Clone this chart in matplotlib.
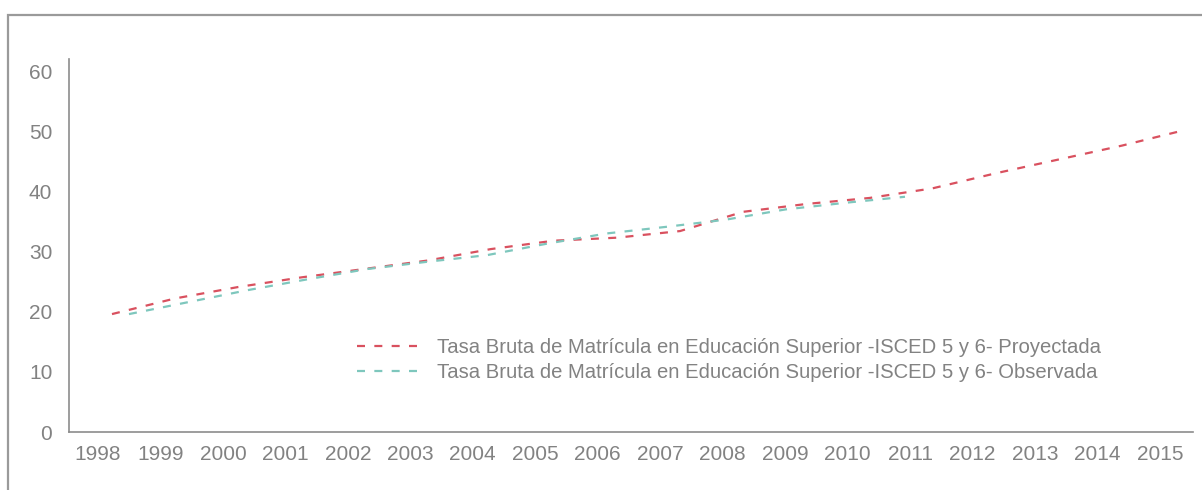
import matplotlib
matplotlib.use('Agg')
import matplotlib.pyplot as plt
from matplotlib.lines import Line2D
from matplotlib.patches import Rectangle

# data
years = [str(y) for y in range(1998, 2016)]
proyectada = [19.6, 22.2, 24.1, 25.7, 27.1, 28.5, 30.4, 31.8, 32.3, 33.4,
              36.6, 37.9, 38.9, 40.5, 43.0, 45.3, 47.6, 50.2]
observada = [19.6, 21.6, 23.6, 25.4, 27.1, 28.3, 29.4, 31.3, 33.0, 34.1,
             35.3, 37.0, 38.1, 39.1]
labels = ['Tasa Bruta de Matrícula en Educación Superior -ISCED 5 y 6- Proyectada',
          'Tasa Bruta de Matrícula en Educación Superior -ISCED 5 y 6- Observada']

RED = '#d9515f'
TEAL = '#7ec7bd'
GREY = '#828282'
DASH = (3.6, 4.2)

plt.rcParams['font.family'] = ['Liberation Sans', 'DejaVu Sans']

fig = plt.figure(figsize=(12.02, 4.9), dpi=100)
fig.patches.append(Rectangle((8 / 1202, -0.2), 2.0, 1.2 - 15 / 490, transform=fig.transFigure,
                             fill=False, edgecolor='#9a9a9a', linewidth=1.6))

ax = fig.add_axes([69 / 1202, 1 - 432 / 490, (1193 - 69) / 1202, (432 - 59) / 490])
ax.set_ylim(0, 62)
ax.set_yticks(range(0, 61, 10))
ax.set_xticks(range(len(years)))
ax.set_xticklabels(years)
ax.set_xlim(-0.464, 17.53)
for side in ['top', 'right']:
    ax.spines[side].set_visible(False)
for side in ['left', 'bottom']:
    ax.spines[side].set_color('#8c8c8c')
    ax.spines[side].set_linewidth(1.2)
ax.tick_params(length=0, labelsize=15, labelcolor=GREY)
ax.tick_params(axis='y', pad=12)
ax.tick_params(axis='x', pad=9)

# projected series
ax_p = ax.twiny()
ax_p.plot(range(len(proyectada)), proyectada, color=RED, lw=1.6, dashes=DASH)
ax_p.set_xlim(-0.681, 17.127)
ax_p.set_ylim(0, 62)
ax_p.axis('off')

# observed series (drawn on its own category scale, like the source)
ax_o = ax.twiny()
ax_o.plot(range(len(observada)), observada, color=TEAL, lw=1.6, dashes=DASH)
ax_o.set_xlim(-1.005, 17.825)
ax_o.set_ylim(0, 62)
ax_o.axis('off')

handles = [Line2D([], [], color=RED, lw=1.6, dashes=DASH),
           Line2D([], [], color=TEAL, lw=1.6, dashes=DASH)]
fig.legend(handles, labels, loc='upper left', bbox_to_anchor=(357 / 1202, 1 - 338 / 490),
           frameon=False, fontsize=14.6, labelcolor=GREY, handlelength=3.4,
           handletextpad=0.55, labelspacing=0.28, borderpad=0, borderaxespad=0)

fig.savefig('out.png', dpi=100)
